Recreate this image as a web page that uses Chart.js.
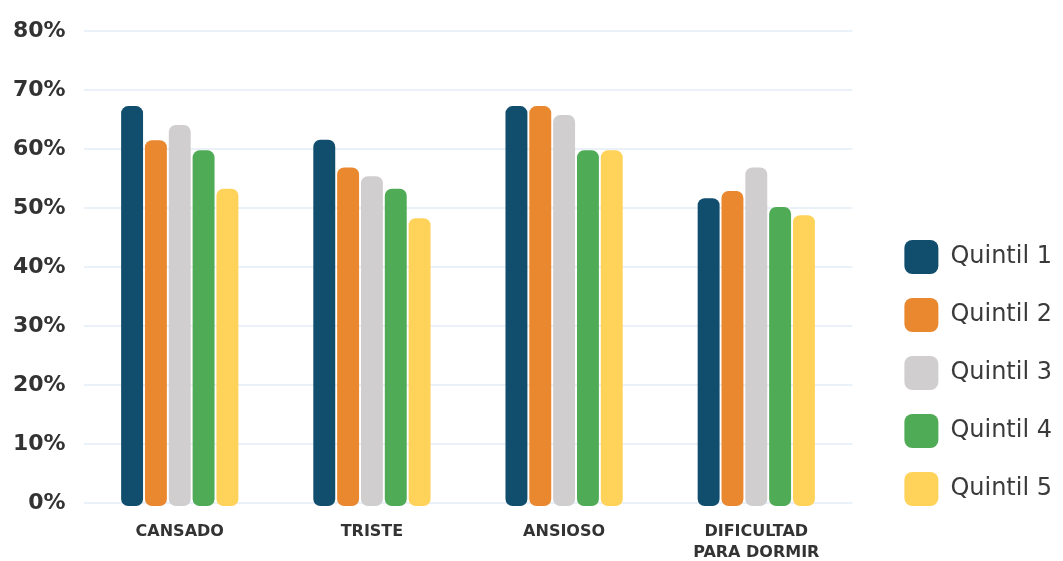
<!DOCTYPE html>
<html>
<head>
<meta charset="utf-8">
<script src="https://cdn.jsdelivr.net/npm/chart.js@4.4.0/dist/chart.umd.min.js"></script>
<style>
  html, body { margin: 0; padding: 0; background: #fff; }
  #wrap { width: 1063px; height: 561px; }
</style>
</head>
<body>
<div id="wrap"><canvas id="chart"></canvas></div>
<script>
// Symptom shares by income quintil
const categories = ['CANSADO', 'TRISTE', 'ANSIOSO', ['DIFICULTAD', 'PARA DORMIR']];
const seriesNames = ['Quintil 1', 'Quintil 2', 'Quintil 3', 'Quintil 4', 'Quintil 5'];
const quintil1 = [67.3, 61.6, 67.3, 51.7];
const quintil2 = [61.5, 56.9, 67.3, 52.9];
const quintil3 = [64.1, 55.4, 65.8, 56.9];
const quintil4 = [59.8, 53.3, 59.8, 50.2];
const quintil5 = [53.3, 48.3, 59.8, 48.8];
const yTicks = [0, 10, 20, 30, 40, 50, 60, 70, 80];

const colors = ['#114e6e', '#e9882f', '#d0cecf', '#4fab55', '#ffd25a'];
const allSeries = [quintil1, quintil2, quintil3, quintil4, quintil5];

const FONT = "'DejaVu Sans', sans-serif";

// move the legend block off the plot a bit and lower it
const legendPlace = {
  id: 'legendPlace',
  afterLayout(chart) {
    const lg = chart.legend;
    if (!lg) return;
    const w = lg.right - lg.left;
    const h = lg.bottom - lg.top;
    lg.left = chart.chartArea.right + 28;
    lg.right = lg.left + w + 20;
    lg.top = 216;
    lg.bottom = lg.top + h;
  }
};

new Chart(document.getElementById('chart'), {
  type: 'bar',
  data: {
    labels: categories,
    datasets: allSeries.map((vals, i) => ({
      label: seriesNames[i],
      data: vals,
      backgroundColor: colors[i],
      borderWidth: 0,
      borderRadius: 7,
      borderSkipped: false,
      base: -0.5,
      clip: false,
      categoryPercentage: 0.62,
      barPercentage: 0.92
    }))
  },
  options: {
    responsive: true,
    maintainAspectRatio: false,
    animation: false,
    layout: { padding: { top: 20, left: -5, right: 29, bottom: -20 } },
    plugins: {
      tooltip: { enabled: false },
      legend: {
        position: 'right',
        align: 'start',
        labels: {
          boxWidth: 34,
          boxHeight: 34,
          padding: 24,
          useBorderRadius: true,
          borderRadius: 8,
          color: '#3a3a3a',
          font: { family: FONT, size: 24, weight: 'normal' }
        }
      }
    },
    scales: {
      x: {
        grid: { display: false, drawTicks: false },
        border: { display: false },
        ticks: {
          padding: 18,
          color: '#333',
          maxRotation: 0,
          font: { family: FONT, size: 16, weight: 'bold', lineHeight: 1.31 }
        }
      },
      y: {
        min: 0,
        max: 80,
        afterBuildTicks: (axis) => { axis.ticks = yTicks.map(v => ({ value: v })); },
        grid: { color: '#eaf1f8', lineWidth: 2, drawTicks: false },
        border: { display: false },
        ticks: {
          padding: 18,
          color: '#333',
          font: { family: FONT, size: 22, weight: 'bold' },
          callback: (v) => v + '%'
        }
      }
    }
  },
  plugins: [legendPlace]
});
</script>
</body>
</html>
